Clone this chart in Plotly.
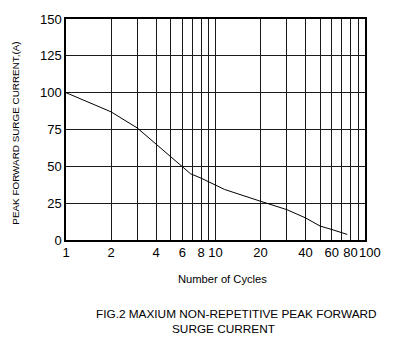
import plotly.graph_objects as go
import math

# Data
cycles = [1, 2, 3, 4, 5, 6, 6.8, 8, 10, 11.5, 20, 30, 40, 50, 60, 76]
surge_current = [100, 87, 76, 65, 57, 50, 45, 42, 37, 34.3, 26.3, 20.6, 15, 9.5, 7.1, 3.8]

x_tick_vals = [1, 2, 4, 6, 8, 10, 20, 40, 60, 80, 100]
x_tick_text = ["1", "2", "4", "6", "8", "10", "20", "40", "60", "80", "100"]
x_minor_vals = [3, 5, 7, 9, 30, 50, 70, 90]
y_tick_vals = [0, 25, 50, 75, 100, 125, 150]

FONT = "Arial, Liberation Sans, sans-serif"

# the last label ("100") is drawn as an annotation nudged right so it does not collide with "80"
axis_text = x_tick_text[:-1] + [""]

fig = go.Figure()
fig.add_trace(go.Scatter(
    x=cycles, y=surge_current, mode="lines",
    line=dict(color="black", width=1), showlegend=False, hoverinfo="skip"))

fig.update_layout(
    width=395, height=351,
    margin=dict(l=66, r=30, t=14, b=111),
    paper_bgcolor="white", plot_bgcolor="white",
    font=dict(family=FONT, color="black"),
    xaxis=dict(
        type="log", range=[0, 2],
        tickmode="array", tickvals=x_tick_vals, ticktext=axis_text,
        tickangle=0,
        tickfont=dict(size=13, family=FONT, color="black"),
        showgrid=True, gridcolor="#1a1a1a", gridwidth=1.3,
        minor=dict(tickmode="array", tickvals=x_minor_vals, showgrid=True,
                   gridcolor="#1a1a1a", gridwidth=1.3, ticks=""),
        showline=True, linecolor="black", linewidth=1.5, mirror=True,
        ticks="", zeroline=False,
    ),
    yaxis=dict(
        range=[0, 150],
        tickmode="array", tickvals=y_tick_vals,
        tickfont=dict(size=13, family=FONT, color="black"),
        showgrid=True, gridcolor="#1a1a1a", gridwidth=1.3,
        showline=True, linecolor="black", linewidth=1.5, mirror=True,
        ticks="", zeroline=False,
    ),
    annotations=[
        dict(text=x_tick_text[-1], xref="x", yref="paper",
             x=math.log10(x_tick_vals[-1]), y=0, xanchor="center", yanchor="top",
             xshift=5, yshift=-3, showarrow=False,
             font=dict(size=13, family=FONT, color="black")),
        dict(text="PEAK FORWARD SURGE CURRENT,(A)", xref="paper", yref="paper",
             x=-0.17, y=0.482, xanchor="center", yanchor="middle", textangle=-90,
             showarrow=False, font=dict(size=9.9, family=FONT, color="black")),
        dict(text="Number of Cycles", xref="paper", yref="paper",
             x=0.525, y=-0.178, xanchor="center", yanchor="middle",
             showarrow=False, font=dict(size=11.2, family=FONT, color="black")),
        dict(text="FIG.2 MAXIUM NON-REPETITIVE PEAK FORWARD", xref="paper", yref="paper",
             x=0.569, y=-0.334, xanchor="center", yanchor="middle",
             showarrow=False, font=dict(size=11.8, family=FONT, color="black")),
        dict(text="SURGE CURRENT", xref="paper", yref="paper",
             x=0.526, y=-0.401, xanchor="center", yanchor="middle",
             showarrow=False, font=dict(size=11.8, family=FONT, color="black")),
    ],
)

fig.write_html("out.html")
